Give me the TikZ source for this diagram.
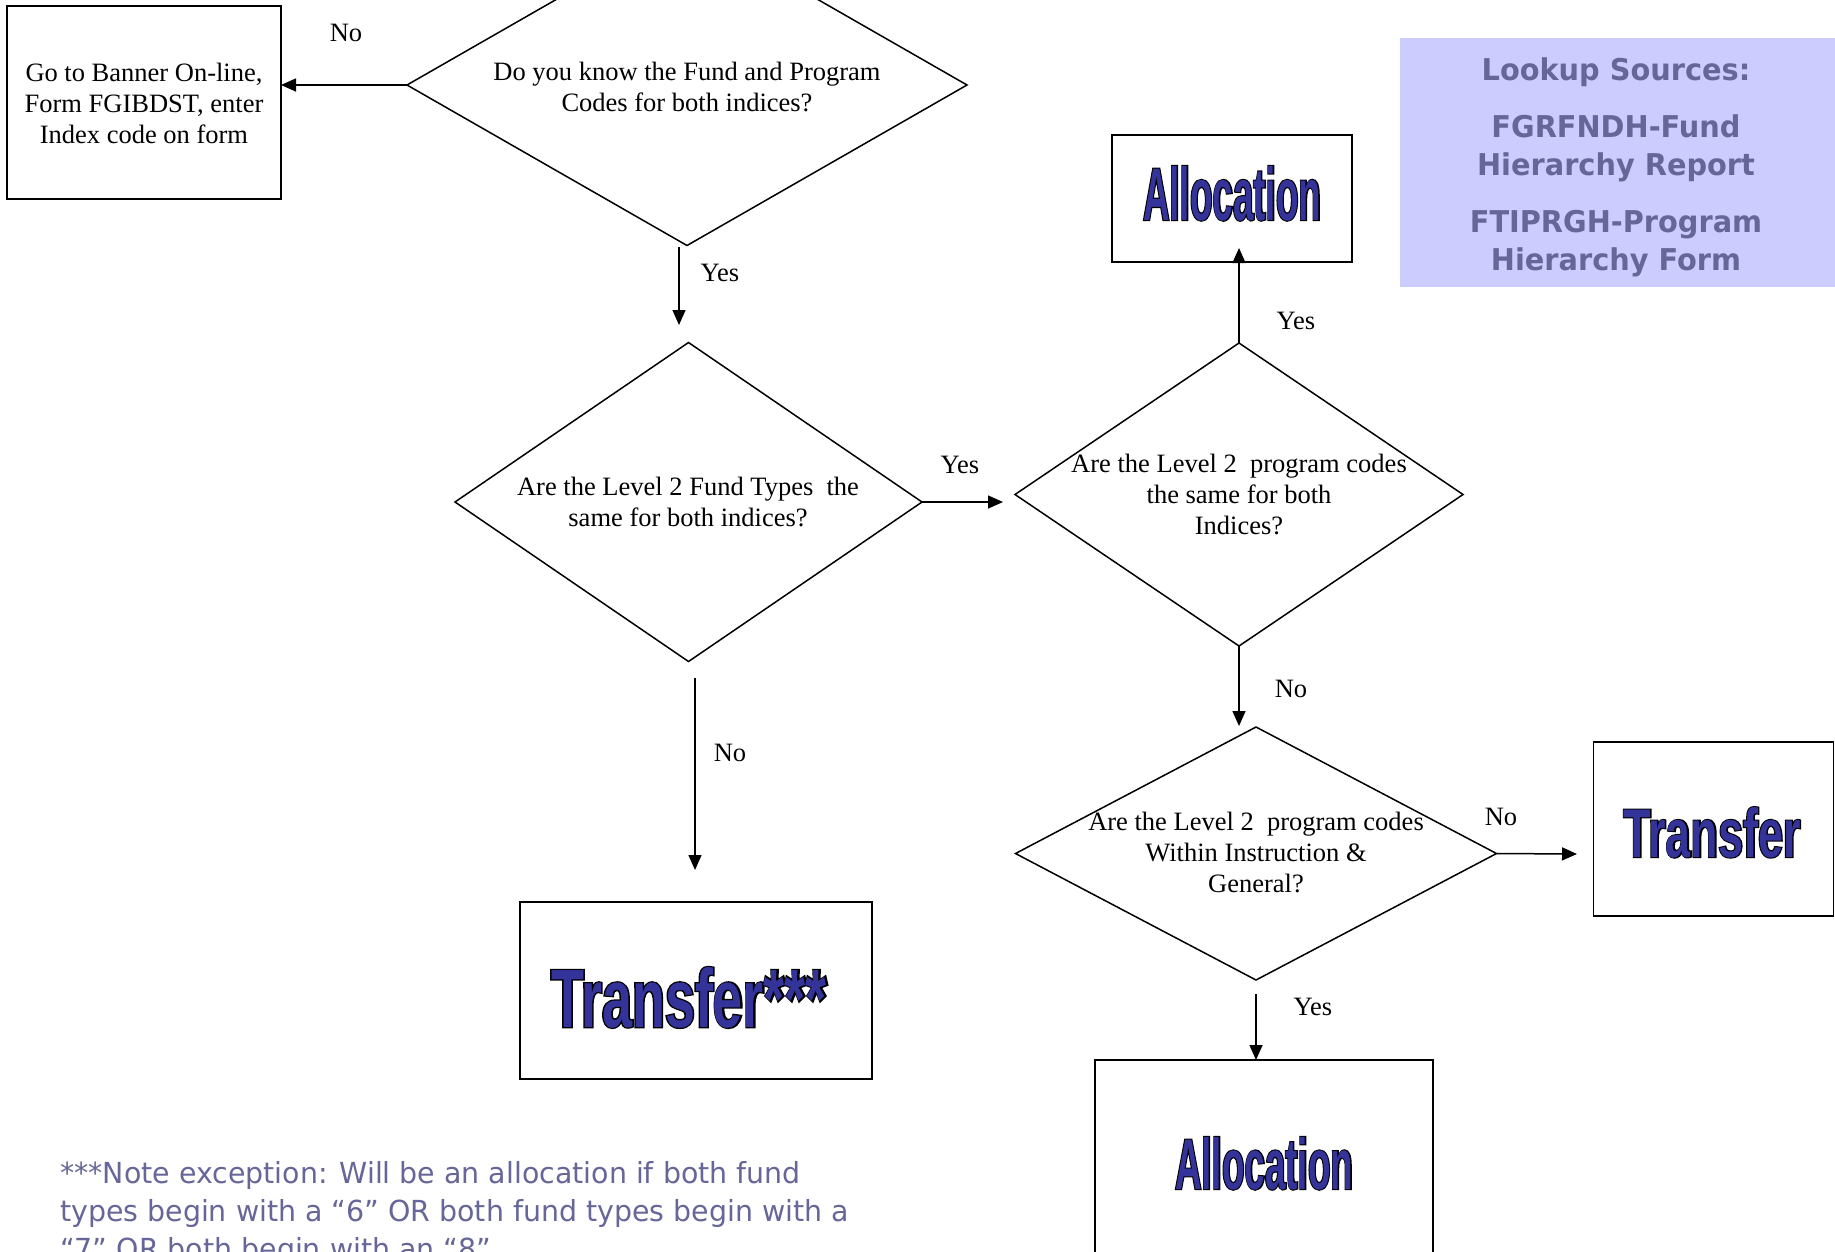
\documentclass[tikz,border=0pt]{standalone}
\usepackage{fontspec}
\usepackage{graphicx}
\usetikzlibrary{shapes.geometric,arrows.meta}
\setmainfont{Liberation Serif}
\newfontfamily\lookfont[FakeStretch=0.96]{DejaVu Sans}
\newfontfamily\notefont[FakeStretch=0.98]{DejaVu Sans}
\newfontfamily\artfill[FakeStretch=0.55]{Liberation Sans}
\newfontfamily\artline[FakeStretch=0.55,FakeBold=3,BoldFeatures={FakeBold=3}]{Liberation Sans}
\definecolor{lookfill}{HTML}{CCCCFF}
\definecolor{looktext}{HTML}{666699}
\definecolor{artblue}{HTML}{333399}
\newcommand\mlines[1]{\begin{tabular}[t]{@{}c@{}}#1\end{tabular}}
\newcommand\artword[3]{\resizebox{#1}{#2}{\rlap{\artline\bfseries\color{black}#3}{\artfill\bfseries\color{artblue}#3}}}
\begin{document}
\begin{tikzpicture}[x=1pt,y=-1pt,
  box/.style={draw,line width=1.6pt,inner sep=0pt,outer sep=0pt},
  dec/.style={draw,diamond,line width=1.5pt,inner sep=0pt,outer sep=0pt},
  lbl/.style={font=\fontsize{26.5}{31}\selectfont,inner sep=0pt},
  txt/.style={font=\fontsize{26.5}{31}\selectfont,inner sep=0pt,anchor=base},
  arr/.style={-{Triangle[length=15pt,width=13pt]},line width=1.5pt},
  art/.style={inner sep=0pt,anchor=base}]
\useasboundingbox (0,0) rectangle (1835,1251);
\fill[white] (0,0) rectangle (1835,1251);

% lookup sources
\node[fill=lookfill,inner sep=0pt,minimum width=435pt,minimum height=249pt] (lk) at (1617.5,162.5) {};
\node[anchor=base,inner sep=0pt,text=looktext,font=\lookfont\bfseries\fontsize{30}{38}\selectfont] (lkt) at (1616,80)
  {\mlines{Lookup Sources:\\[19pt]FGRFNDH-Fund\\Hierarchy Report\\[19pt]FTIPRGH-Program\\Hierarchy Form}};

% boxes
\node[box,minimum width=274pt,minimum height=193pt] (b1) at (144,102.5) {};
\node[box,minimum width=240pt,minimum height=127pt] (a1) at (1232,198.5) {};
\node[box,minimum width=240pt,minimum height=174pt] (t1) at (1713.5,829) {};
\node[box,minimum width=352pt,minimum height=177pt] (t3) at (696,990.5) {};
\node[box,minimum width=338pt,minimum height=240pt] (a2) at (1264,1180) {};

% diamonds
\node[dec,minimum width=560pt,minimum height=321pt] (d1) at (687,85) {};
\node[dec,minimum width=467pt,minimum height=319pt] (d2) at (688.5,502) {};
\node[dec,minimum width=448pt,minimum height=303pt] (d3) at (1239,494.5) {};
\node[dec,minimum width=481pt,minimum height=253pt] (d4) at (1256,853.5) {};

% texts
\node[txt] (b1t) at (144,81) {\mlines{Go to Banner On-line,\\Form FGIBDST, enter\\Index code on form}};
\node[txt] (d1t) at (687,80) {\mlines{Do you know the Fund and Program\\Codes for both indices?}};
\node[txt] (d2t) at (688,495) {\mlines{Are the Level 2 Fund Types~ the\\same for both indices?}};
\node[txt] (d3t) at (1239,472) {\mlines{Are the Level 2~ program codes\\the same for both\\Indices?}};
\node[txt] (d4t) at (1256,830) {\mlines{Are the Level 2~ program codes\\Within Instruction \&\\General?}};

% word art
\node[art] (a1w) at (1232,220) {\artword{178pt}{54pt}{Allocation}};
\node[art] (t1w) at (1712,857) {\artword{177pt}{50pt}{Transfer}};
\node[art] (t3w) at (689,1027) {\artword{276pt}{60pt}{Transfer***}};
\node[art] (a2w) at (1264,1189) {\artword{178pt}{52pt}{Allocation}};

% connectors
\coordinate (y1s) at (679,247);
\coordinate (y1e) at (679,325);
\coordinate (y2e) at (1003,502);
\coordinate (n2s) at (695,678);
\coordinate (n2e) at (695,870);
\coordinate (y3e) at (1239,248);
\coordinate (n3e) at (1239,726);
\coordinate (n4e) at (1577,854);
\coordinate (y4s) at (1256,994);
\coordinate (y4e) at (1256,1060);

\draw[arr] (d1.west) -- (b1.east |- d1.west);
\draw[arr] (y1s) -- (y1e);
\draw[arr] (d2.east) -- (y2e);
\draw[arr] (n2s) -- (n2e);
\draw[arr] (d3.north) -- (y3e);
\draw[arr] (d3.south) -- (n3e);
\draw[arr] (d4.east) -- (n4e);
\draw[arr] (y4s) -- (y4e);

% labels
\node[lbl] (l1) at (346,33) {No};
\node[lbl] (l2) at (720,273) {Yes};
\node[lbl] (l3) at (960,465) {Yes};
\node[lbl] (l4) at (730,753) {No};
\node[lbl] (l5) at (1296,321) {Yes};
\node[lbl] (l6) at (1291,689) {No};
\node[lbl] (l7) at (1501,817) {No};
\node[lbl] (l8) at (1313,1007) {Yes};

% note
\node[anchor=base west,inner sep=0pt,text=looktext,font=\notefont\fontsize{29}{38}\selectfont] (note) at (60,1183)
  {\begin{tabular}[t]{@{}l@{}}***Note exception: Will be an allocation if both fund\\types begin with a “6” OR both fund types begin with a\\“7” OR both begin with an “8”\end{tabular}};
\end{tikzpicture}
\end{document}
